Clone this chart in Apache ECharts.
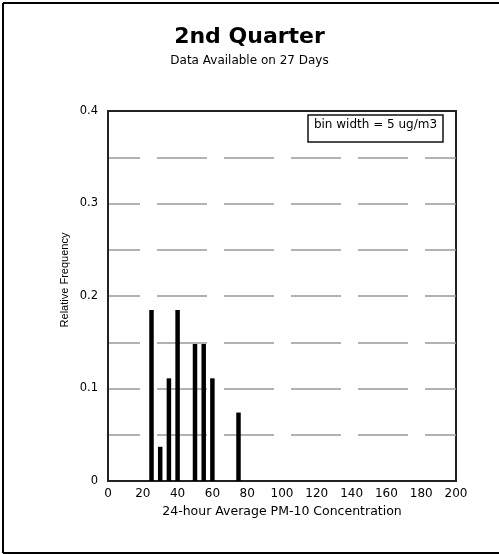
<!DOCTYPE html>
<html><head><meta charset="utf-8">
<script src="https://cdn.jsdelivr.net/npm/echarts@6/dist/echarts.min.js"></script>
<style>html,body{margin:0;padding:0;background:#fff;overflow:hidden}#c{width:499px;height:554px}</style>
</head><body><div id="c"></div>
<script>
var binCenters = [25, 30, 35, 40, 50, 55, 60, 75];
var relFreq = [0.185, 0.037, 0.111, 0.185, 0.148, 0.148, 0.111, 0.074];
var yTickLabels = ['0', '0.1', '0.2', '0.3', '0.4'];
var xTickLabels = ['0','20','40','60','80','100','120','140','160','180','200'];
var titleText = '2nd Quarter';
var subtitleText = 'Data Available on 27 Days';
var noteText = 'bin width = 5 ug/m3';

var chart = echarts.init(document.getElementById('c'), null, {renderer: 'canvas'});
var font = 'Liberation Sans, Arial, sans-serif';
var dfont = 'DejaVu Sans, sans-serif';
chart.setOption({
  animation: false,
  backgroundColor: '#fff',
  title: {
    text: titleText, subtext: subtitleText, left: 'center', top: 21, itemGap: 7,
    textStyle: {fontFamily: dfont, fontSize: 22, fontWeight: 'bold', color: '#000'},
    subtextStyle: {fontFamily: dfont, fontSize: 12, color: '#000'}
  },
  grid: {left: 108, top: 111, width: 348, height: 370, show: true, borderColor: '#222', borderWidth: 2, backgroundColor: 'transparent'},
  xAxis: {
    type: 'value', min: 0, max: 200, interval: 20,
    name: '24-hour Average PM-10 Concentration', nameLocation: 'middle', nameGap: 21,
    nameTextStyle: {fontFamily: dfont, fontSize: 12.5, color: '#000'},
    axisLine: {show: true, lineStyle: {color: '#222', width: 2}},
    axisTick: {show: false},
    splitLine: {show: false},
    axisLabel: {fontFamily: dfont, fontSize: 12, color: '#000', margin: 7,
      formatter: function(v){ var i = Math.round(v/20); return xTickLabels[i] || ''; }}
  },
  yAxis: {
    type: 'value', min: 0, max: 0.4, interval: 0.05,
    axisLine: {show: true, lineStyle: {color: '#222', width: 2}},
    axisTick: {show: false},
    splitLine: {show: true, showMinLine: false, showMaxLine: false, lineStyle: {color: '#999', width: 1.5, type: [50, 17], dashOffset: 18}},
    axisLabel: {fontFamily: dfont, fontSize: 11.5, color: '#000', margin: 10,
      formatter: function(v){ var k = Math.round(v*20); return (k % 2 === 0) ? yTickLabels[k/2] : ''; }}
  },
  graphic: [
    {type: 'line', shape: {x1: 3, y1: 3, x2: 499, y2: 3}, style: {stroke: '#000', lineWidth: 2}},
    {type: 'line', shape: {x1: 3, y1: 3, x2: 3, y2: 553}, style: {stroke: '#000', lineWidth: 2}},
    {type: 'line', shape: {x1: 3, y1: 553, x2: 499, y2: 553}, style: {stroke: '#000', lineWidth: 2}},
    {type: 'text', x: 65, y: 280, rotation: Math.PI/2,
      style: {text: 'Relative Frequency', fill: '#000', font: '11px ' + font, textAlign: 'center', textVerticalAlign: 'middle'}},
    {type: 'rect', shape: {x: 308, y: 115, width: 135, height: 27},
      style: {fill: '#fff', stroke: '#111', lineWidth: 1.5}},
    {type: 'text', x: 375.5, y: 125, style: {text: noteText, fill: '#000', font: '12px ' + dfont, textAlign: 'center', textVerticalAlign: 'middle'}}
  ],
  series: [{
    type: 'bar', barWidth: 4.5,
    data: binCenters.map(function(x, i){ return [x, relFreq[i]]; }),
    itemStyle: {color: '#000'},
    z: 3
  }]
});
</script></body></html>
